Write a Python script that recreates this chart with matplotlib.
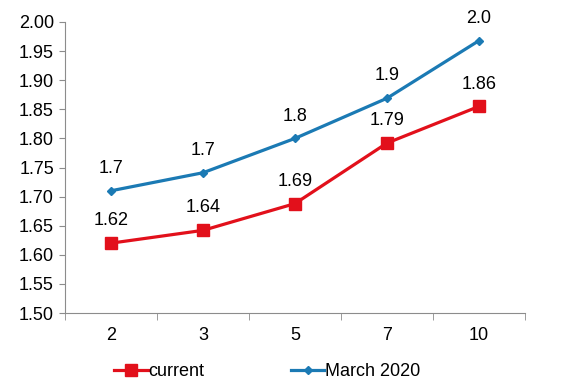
import matplotlib.pyplot as plt
from matplotlib.ticker import FixedLocator, NullLocator

plt.rcParams['font.family'] = ['Liberation Sans', 'DejaVu Sans']

maturities = ['2', '3', '5', '7', '10']
current = [1.62, 1.642, 1.688, 1.792, 1.855]
march_2020 = [1.71, 1.741, 1.80, 1.869, 1.968]
current_labels = ['1.62', '1.64', '1.69', '1.79', '1.86']
march_labels = ['1.7', '1.7', '1.8', '1.9', '2.0']

RED = '#E2101B'
BLUE = '#1B7AB4'
AXIS = '#8C8C8C'
FS = 13

fig = plt.figure(figsize=(5.75, 3.83), dpi=100)
ax = fig.add_axes([65 / 575, 1 - 313 / 383, 460 / 575, 291 / 383])

x = range(len(maturities))
ax.plot(x, current, color=RED, lw=2.3, marker='s', ms=8.5, label='current', clip_on=False)
ax.plot(x, march_2020, color=BLUE, lw=2.3, marker='D', ms=4.5, label='March 2020', clip_on=False)

for i, (v, t) in enumerate(zip(current, current_labels)):
    ax.annotate(t, (i, v), xytext=(0, 10), textcoords='offset points', ha='center', va='bottom', fontsize=FS)
for i, (v, t) in enumerate(zip(march_2020, march_labels)):
    ax.annotate(t, (i, v), xytext=(0, 10), textcoords='offset points', ha='center', va='bottom', fontsize=FS)

ax.set_xlim(-0.5, len(maturities) - 0.5)
ax.set_ylim(1.5, 2.0)
ax.set_yticks([1.5 + 0.05 * k for k in range(11)])
ax.set_yticklabels([f'{1.5 + 0.05 * k:.2f}' for k in range(11)])
ax.set_xticks(list(x))
ax.set_xticklabels(maturities)
ax.xaxis.set_minor_locator(FixedLocator([i + 0.5 for i in range(-1, len(maturities))]))
ax.tick_params(axis='x', which='major', length=0, pad=10, labelsize=FS)
ax.tick_params(axis='x', which='minor', length=5, color=AXIS, direction='out')
ax.tick_params(axis='y', length=4, color=AXIS, labelsize=FS, pad=4)
ax.yaxis.set_minor_locator(NullLocator())

for side in ['top', 'right']:
    ax.spines[side].set_visible(False)
for side in ['left', 'bottom']:
    ax.spines[side].set_color(AXIS)
    ax.spines[side].set_linewidth(0.8)

fig.legend(loc='lower center', bbox_to_anchor=(0.465, -0.035), ncol=2, frameon=False,
           fontsize=FS, handlelength=1.85, handletextpad=0.05, columnspacing=4.8)

fig.savefig('out.png', dpi=100)
